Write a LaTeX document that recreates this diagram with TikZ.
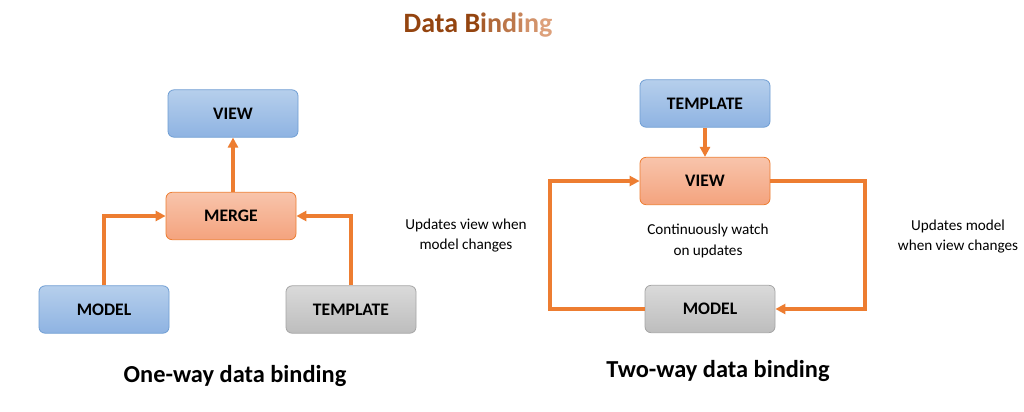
\documentclass[tikz,border=0pt]{standalone}
\usepackage{fontspec}
\setmainfont{Carlito}
\usetikzlibrary{arrows.meta,calc,positioning}
\definecolor{arrowOrange}{HTML}{ED7D31}
\definecolor{blueTop}{HTML}{B6CFEC}
\definecolor{blueBottom}{HTML}{8EB3E2}
\definecolor{blueLine}{HTML}{6E9DD3}
\definecolor{orangeTop}{HTML}{F8C4AB}
\definecolor{orangeBottom}{HTML}{F4A37E}
\definecolor{grayTop}{HTML}{DADADA}
\definecolor{grayBottom}{HTML}{BDBDBD}
\definecolor{grayLine}{HTML}{A5A5A5}
\definecolor{titleDark}{HTML}{94440F}
\definecolor{titleLight}{HTML}{DDA07A}

\begin{document}
\begin{tikzpicture}[
  x=0.75pt,y=-0.75pt,
  font=\fontsize{12}{14}\selectfont,
  box/.style={rounded corners=4.5pt,minimum width=97.5pt,minimum height=35.5pt,inner sep=0pt,line width=0.6pt,font=\fontsize{13.2}{15}\selectfont\bfseries},
  bluebox/.style={box,draw=blueLine,top color=blueTop,bottom color=blueBottom},
  orangebox/.style={box,draw=arrowOrange,top color=orangeTop,bottom color=orangeBottom},
  graybox/.style={box,draw=grayLine,top color=grayTop,bottom color=grayBottom},
  link/.style={draw=arrowOrange,line width=2.3pt,-{Triangle[length=7.5pt,width=7.5pt]}},
  note/.style={align=center,font=\fontsize{11.4}{15.5}\selectfont},
  caption/.style={font=\fontsize{18.3}{21}\selectfont\bfseries}
]
  \useasboundingbox[fill=white] (0,0) rectangle (1024,411);
  % title fades from dark to light brown
  \node[font=\fontsize{21}{24}\selectfont\bfseries] (title) at (478,25) {%
    \textcolor{titleDark}{Data B}\textcolor{titleLight!25!titleDark}{i}\textcolor{titleLight!40!titleDark}{n}%
    \textcolor{titleLight!55!titleDark}{d}\textcolor{titleLight!70!titleDark}{i}\textcolor{titleLight!85!titleDark}{n}\textcolor{titleLight}{g}};

  % one-way data binding
  \node[bluebox] (viewA) at (233,113.5) {VIEW};
  \node[orangebox] (merge) at (231,216) {MERGE};
  \node[bluebox] (modelA) at (104,309.5) {MODEL};
  \node[graybox] (templateA) at (351,309.5) {TEMPLATE};
  \draw[link] (merge.north -| viewA) -- (viewA.south);
  \draw[link] (modelA.north) |- (merge.west);
  \draw[link] (templateA.north) |- (merge.east);
  \node[caption] (oneWay) at (235,376) {One-way data binding};

  % two-way data binding
  \node[bluebox] (templateB) at (705,103.5) {TEMPLATE};
  \node[orangebox] (viewB) at (705,181) {VIEW};
  \node[graybox] (modelB) at (710,309) {MODEL};
  \coordinate (leftTurn) at (550,0);
  \coordinate (rightTurn) at (865,0);
  \draw[link] (templateB.south) -- (viewB.north);
  \draw[link] (modelB.west) -- (modelB.west -| leftTurn) -- (viewB.west -| leftTurn) -- (viewB.west);
  \draw[link] (viewB.east) -- (viewB.east -| rightTurn) -- (modelB.east -| rightTurn) -- (modelB.east);
  \node[note] (viewNote) at (466,235.5) {Updates view when\\model changes};
  \node[note] (watchNote) at (708,241) {Continuously watch\\on updates};
  \node[note] (modelNote) at (958,236.5) {Updates model\\when view changes};
  \node[caption] (twoWay) at (718,371) {Two-way data binding};
\end{tikzpicture}
\end{document}
